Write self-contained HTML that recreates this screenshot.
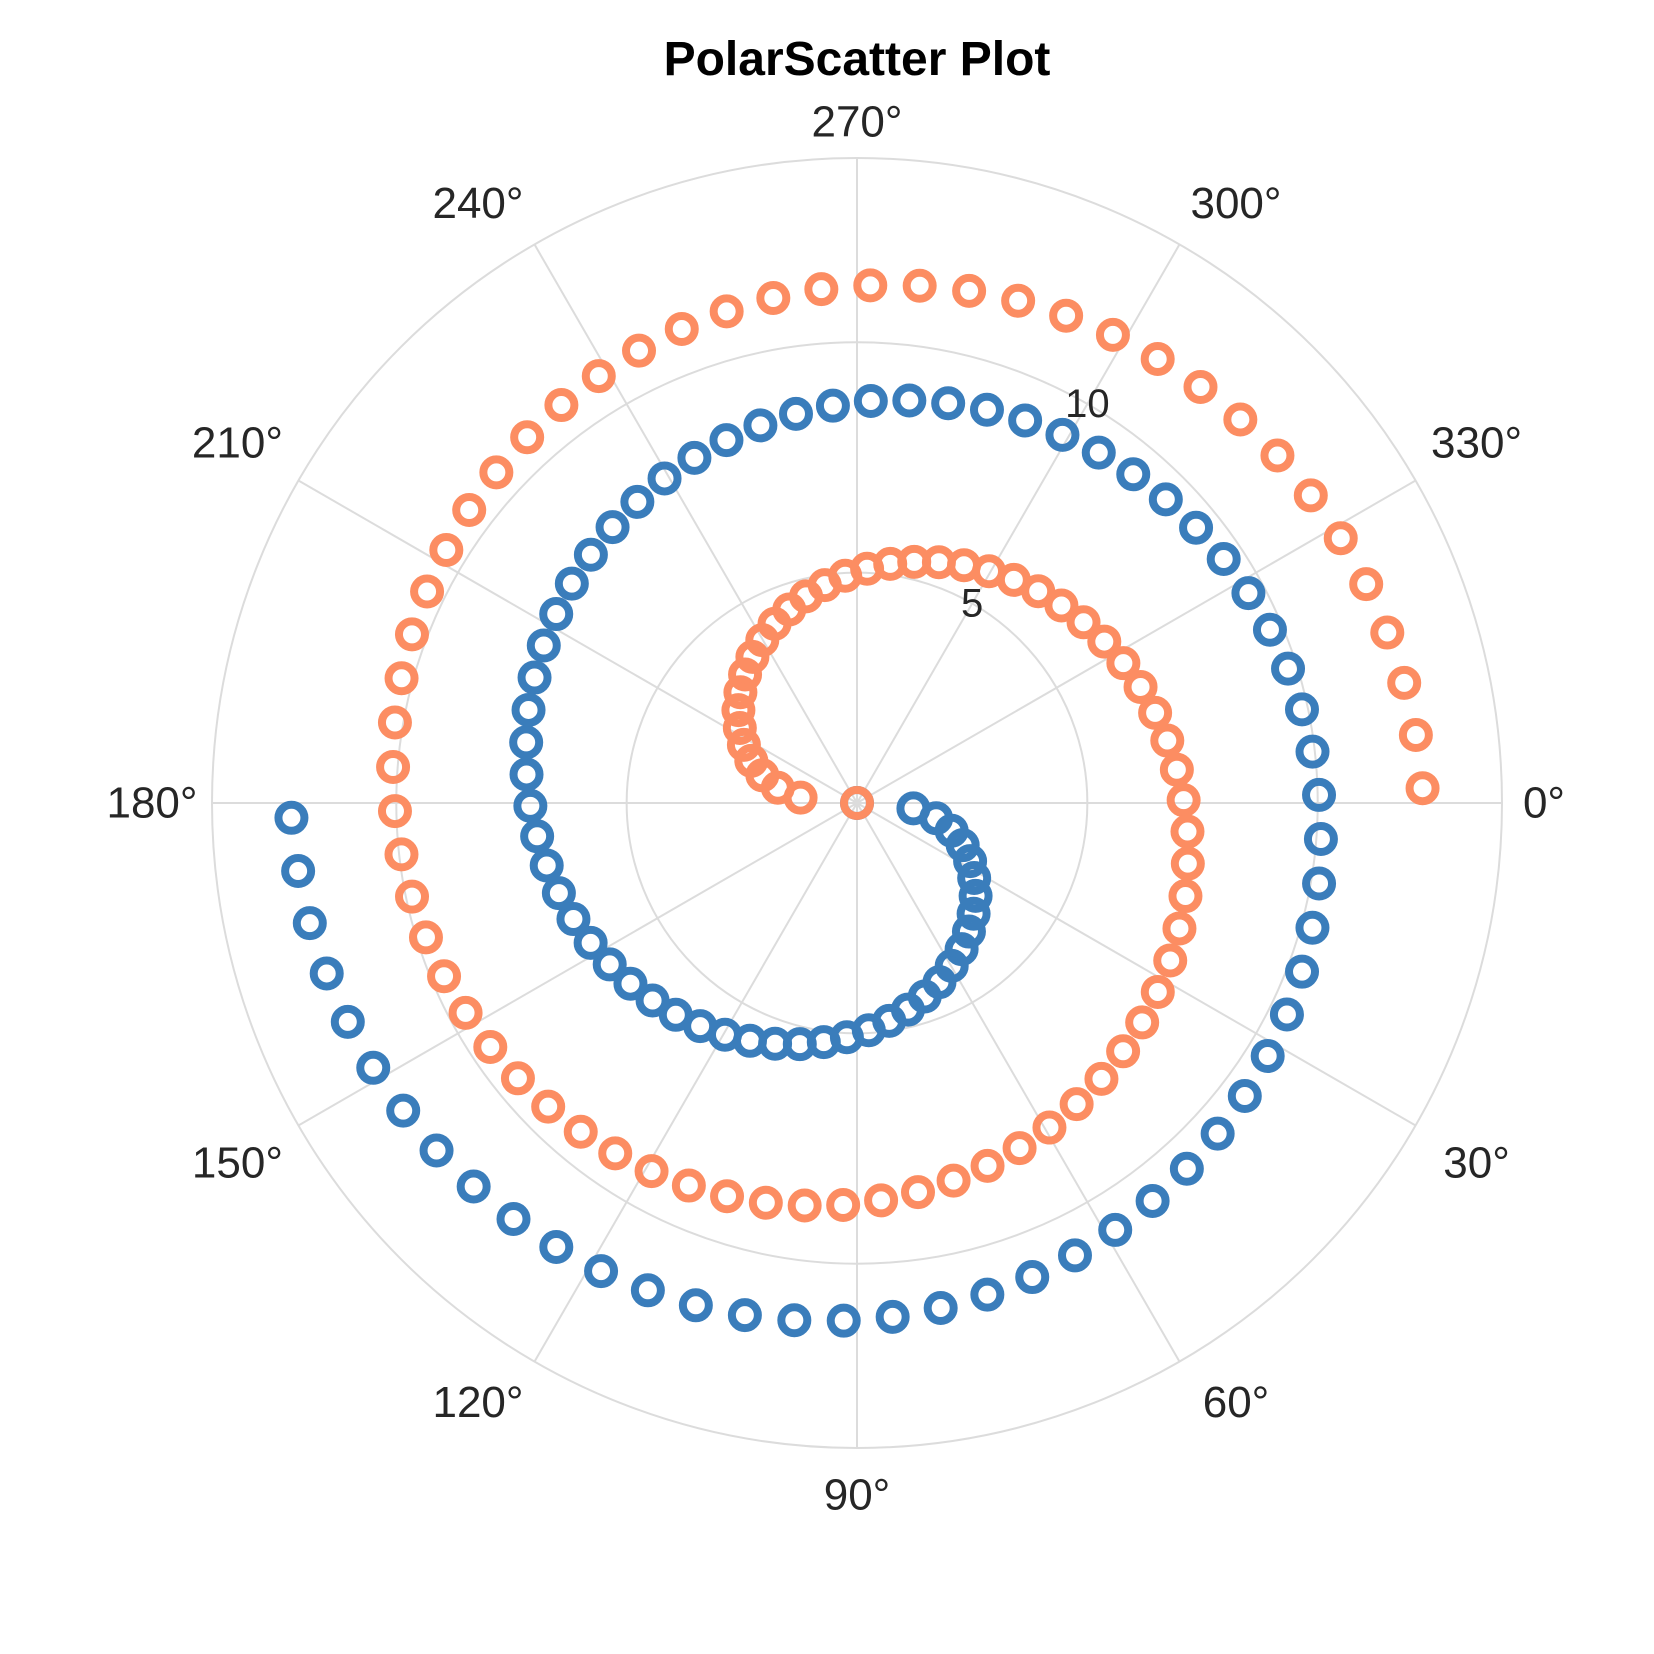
<!DOCTYPE html>
<html><head><meta charset="utf-8"><style>
html,body{margin:0;padding:0;background:#fff}
svg{display:block;font-family:"Liberation Sans",Arial,sans-serif}
</style></head><body>
<svg id="chart" width="1654" height="1654" viewBox="0 0 1654 1654">
<text x="857" y="75" text-anchor="middle" font-size="48" font-weight="bold" fill="#000">PolarScatter Plot</text>
<g id="grid"></g>
<g id="labels"></g>
<g id="series-blue"></g>
<g id="series-orange"></g>
</svg>
<script>
const blueR = [0,1.23,1.75,2.14,2.47,2.76,3.02,3.27,3.49,3.70,3.90,4.09,4.28,4.45,4.62,4.78,4.94,5.09,5.24,5.38,5.52,5.66,5.79,5.92,6.05,6.17,6.29,6.41,6.53,6.65,6.76,6.87,6.98,7.09,7.20,7.30,7.41,7.51,7.61,7.71,7.81,7.90,8.00,8.09,8.19,8.28,8.37,8.46,8.55,8.64,8.73,8.81,8.90,8.99,9.07,9.15,9.24,9.32,9.40,9.48,9.56,9.64,9.72,9.80,9.87,9.95,10.03,10.10,10.18,10.25,10.33,10.40,10.47,10.55,10.62,10.69,10.76,10.83,10.90,10.97,11.04,11.11,11.18,11.24,11.31,11.38,11.45,11.51,11.58,11.64,11.71,11.77,11.84,11.90,11.97,12.03,12.09,12.16,12.22,12.28];
const orangeR = [0,1.23,1.75,2.14,2.47,2.76,3.02,3.27,3.49,3.70,3.90,4.09,4.28,4.45,4.62,4.78,4.94,5.09,5.24,5.38,5.52,5.66,5.79,5.92,6.05,6.17,6.29,6.41,6.53,6.65,6.76,6.87,6.98,7.09,7.20,7.30,7.41,7.51,7.61,7.71,7.81,7.90,8.00,8.09,8.19,8.28,8.37,8.46,8.55,8.64,8.73,8.81,8.90,8.99,9.07,9.15,9.24,9.32,9.40,9.48,9.56,9.64,9.72,9.80,9.87,9.95,10.03,10.10,10.18,10.25,10.33,10.40,10.47,10.55,10.62,10.69,10.76,10.83,10.90,10.97,11.04,11.11,11.18,11.24,11.31,11.38,11.45,11.51,11.58,11.64,11.71,11.77,11.84,11.90,11.97,12.03,12.09,12.16,12.22,12.28];
const thetaSpanDeg = 538.5;
const blueOffsetDeg = 0;
const orangeOffsetDeg = 180;
const rTicks = [5, 10];
const rTickLabels = ["5", "10"];
const angleTicks = [0,30,60,90,120,150,180,210,240,270,300,330];
const angleTickLabels = ["0°","30°","60°","90°","120°","150°","180°","210°","240°","270°","300°","330°"];
const rMax = 14;

const CX = 857, CY = 803, R = 645;
const NS = "http://www.w3.org/2000/svg";
function rScale(r){ return r / rMax * R; }
function pt(deg, r){ const a = deg*Math.PI/180; const d = rScale(r); return [CX + d*Math.cos(a), CY + d*Math.sin(a)]; }
function mk(tag, attrs, parent){ const e=document.createElementNS(NS,tag); for(const k in attrs) e.setAttribute(k,attrs[k]); parent.appendChild(e); return e; }

const grid = document.getElementById('grid');
const labels = document.getElementById('labels');
rTicks.concat([rMax]).forEach((r,i)=>{
  const c = mk('circle',{cx:CX,cy:CY,r:rScale(r),fill:'none',stroke:'#dcdcdc','stroke-width':2},grid);
  
  
});
function labelTweak(deg){
  const a = deg*Math.PI/180, c = Math.cos(a), s = Math.sin(a);
  const sx = Math.abs(c) < 1e-6 ? 0 : Math.sign(c), sy = Math.abs(s) < 1e-6 ? 0 : Math.sign(s);
  if (deg % 90 === 0) {
    if (deg === 0) return [-3, 0];
    if (deg === 180) return [-15, 0];
    if (deg === 90) return [0, 2];
    return [0, 9];
  }
  if (Math.abs(s) < 0.6) return [sx*22, sy*15];
  return [sx*34, sy*2];
}
angleTicks.forEach((deg,i)=>{
  const [x,y] = pt(deg, rMax);
  const l = mk('line',{x1:CX,y1:CY,x2:x,y2:y,stroke:'#dcdcdc','stroke-width':2},grid);
  
  
  const a = deg*Math.PI/180;
  const tw = labelTweak(deg);
  const d = 690;
  const t = mk('text',{x:CX+d*Math.cos(a)+tw[0],y:CY+d*Math.sin(a)+tw[1],'text-anchor':'middle','dominant-baseline':'central','font-size':44,fill:'#262626'},labels);
  t.textContent = angleTickLabels[i];
  
  
});
rTicks.forEach((r,i)=>{
  const [x,y] = pt(300, r);
  const t = mk('text',{x:x,y:y,'text-anchor':'middle','dominant-baseline':'central','font-size':40,fill:'#262626'},labels);
  t.textContent = rTickLabels[i];
  
  
});

function drawSeries(gid, rs, offset, color, name){
  const g = document.getElementById(gid);
  const n = rs.length;
  rs.forEach((r,i)=>{
    const deg = offset + i*thetaSpanDeg/(n-1);
    const [x,y] = pt(deg, r);
    const c = mk('circle',{cx:x,cy:y,r:13,fill:'none',stroke:color,'stroke-width':8},g);
    
    
  });
}
drawSeries('series-blue', blueR, blueOffsetDeg, '#3a7dbb', 'blue-point');
drawSeries('series-orange', orangeR, orangeOffsetDeg, '#fc8d62', 'orange-point');
</script>
</body></html>
